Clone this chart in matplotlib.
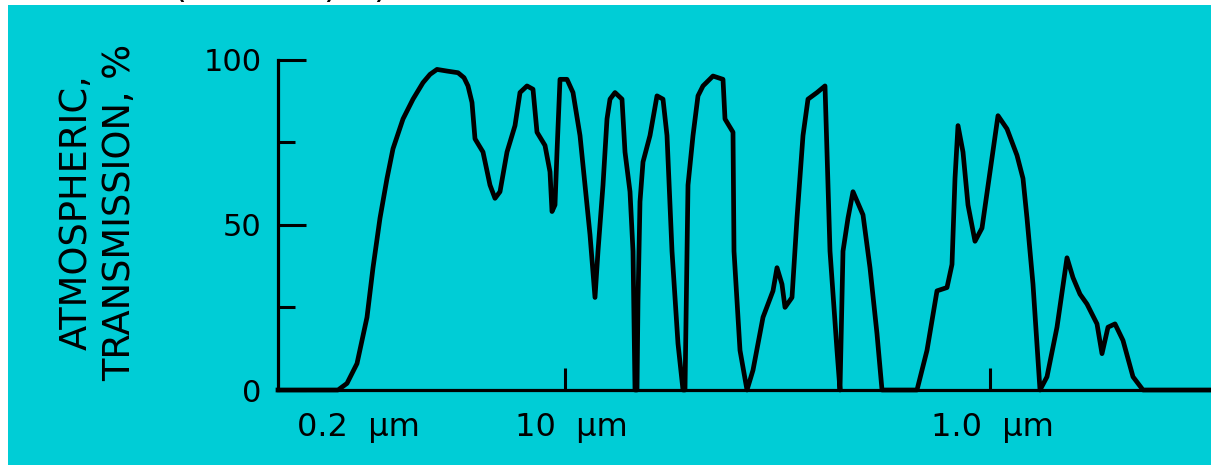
import matplotlib
matplotlib.use("Agg")
import matplotlib.pyplot as plt
from matplotlib.patches import Rectangle

# band position along the axis (arbitrary units) and transmission in %
position = [0, 60, 69, 79, 89, 95, 102, 109, 115, 125, 135, 145, 152, 159, 169, 180,
            186, 190, 194, 197, 205, 212, 217, 222, 229, 237, 242, 249, 255, 259, 267,
            272, 274, 277, 279, 282, 289, 295, 302, 307, 312, 317, 320, 325, 329,
            332, 337, 344, 347, 352, 355, 357, 359, 360, 362, 365, 372, 379, 385,
            389, 394, 400, 405, 407, 409, 410, 415, 420, 425, 435, 445, 447, 455,
            456, 462, 469, 475, 485, 495, 499, 504, 507, 514, 519, 525, 530, 539,
            547, 549, 552, 559, 562, 565, 570, 575, 585, 592, 599, 604, 639, 649,
            659, 669, 674, 677, 680, 685, 690, 697, 704, 712, 720, 729, 739, 745,
            749, 755, 762, 769, 779, 789, 795, 802, 809, 819, 824, 830, 837, 845,
            855, 865, 933]
transmission = [0, 0, 2, 8, 22, 37, 52, 64, 73, 82, 88, 93, 95.5, 97, 96.5, 96,
                94.5, 92, 87, 76, 72, 62, 58, 60, 72, 80, 90, 92, 91, 78, 74,
                66, 54, 56, 72, 94, 94, 90, 77, 62, 47, 28, 42, 62, 82,
                88, 90, 88, 72, 60, 42, 0, 0, 27, 57, 69, 77, 89, 88,
                77, 42, 14, 0, 0, 42, 62, 77, 89, 92, 95, 94, 82, 78,
                42, 12, 0, 6, 22, 30, 37, 32, 25, 28, 52, 77, 88, 90,
                92, 72, 42, 12, 0, 42, 52, 60, 53, 37, 17, 0, 0, 12,
                30, 31, 38, 64, 80, 72, 56, 45, 49, 66, 83, 79, 71, 64,
                52, 32, 0, 4, 19, 40, 34, 29, 26, 20, 11, 19, 20, 15,
                4, 0, 0]

xtick_pos = [80, 293, 714]
xtick_labels = ["0.2  \u03bcm", "10  \u03bcm", "1.0  \u03bcm"]
xmark_pos = [287, 712]
yticks = [0, 50, 100]
yminor = [25, 75]

bg = "#00cdd6"
W, H = 1211, 465

fig = plt.figure(figsize=(W / 100, H / 100), dpi=100, facecolor="white")

# cut-off title remnants at the very top
for px, ch in [(180, "("), (330, ")"), (380, ")")]:
    fig.text(px / W, 1 - 4 / H, ch, fontsize=26, ha="center", va="bottom",
             zorder=-2, family="DejaVu Sans")

fig.patches.append(Rectangle((8 / W, 0), 1 - 8 / W, 1 - 5 / H,
                             transform=fig.transFigure, facecolor=bg,
                             edgecolor="none", zorder=-1))

ax = fig.add_axes([278 / W, 75 / H, 1 - 278 / W, 330.5 / H])
ax.set_facecolor("none")

ax.plot(position, transmission, color="black", lw=3.4, solid_joinstyle="round",
        clip_on=False, zorder=3)

ax.set_xlim(0, 933)
ax.set_ylim(0, 100)

for s in ["top", "right"]:
    ax.spines[s].set_visible(False)
for s in ["left", "bottom"]:
    ax.spines[s].set_linewidth(2.3)

ax.set_yticks(yticks)
ax.set_yticks(yminor, minor=True)
ax.tick_params(axis="y", which="major", direction="in", length=20, width=2.2,
               labelsize=22, pad=12)
ax.tick_params(axis="y", which="minor", direction="in", length=12, width=2.2)

ax.set_xticks(xtick_pos)
ax.set_xticklabels(xtick_labels)
ax.set_xticks(xmark_pos, minor=True)
ax.tick_params(axis="x", which="major", length=0, labelsize=23, pad=16)
ax.tick_params(axis="x", which="minor", direction="in", length=16, width=2.2)

fig.text(98 / W, 1 - 212 / H, "ATMOSPHERIC,\nTRANSMISSION, %", rotation=90,
         ha="center", va="center", multialignment="center", fontsize=26.5,
         linespacing=1.2)

fig.savefig("out.png", dpi=100, facecolor="white")
